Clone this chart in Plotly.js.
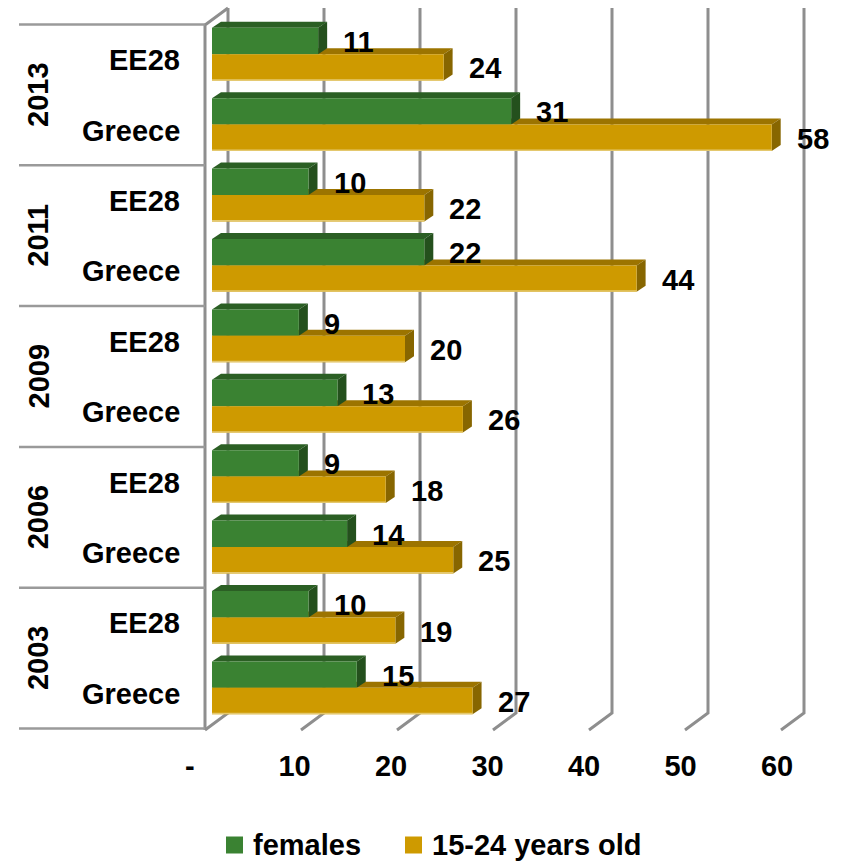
<!DOCTYPE html>
<html>
<head>
<meta charset="utf-8">
<script src="https://cdn.plot.ly/plotly-3.0.1.min.js"></script>
<style>
  html, body { margin: 0; padding: 0; background: #ffffff; }
  #chart { width: 841px; height: 866px; }
</style>
</head>
<body>
<div id="chart"></div>
<script>
// Categories (top to bottom) and series values
const years = ['2013', '2011', '2009', '2006', '2003'];
const regions = ['EE28', 'Greece'];
const females = [11, 31, 10, 22, 9, 13, 9, 14, 10, 15];
const youth = [24, 58, 22, 44, 20, 26, 18, 25, 19, 27];
const tickValues = [0, 10, 20, 30, 40, 50, 60];
const tickLabels = ['-\u00a0\u00a0', '10', '20', '30', '40', '50', '60'];
const seriesNames = ['females', '15-24 years old'];

// Figure geometry
const W = 841, H = 866;
const ML = 212, MR = 37, MT = 19, MB = 143;
const PW = W - ML - MR, PH = H - MT - MB;
const PX_PER_UNIT = 9.65;
const XMAX = PW / PX_PER_UNIT;
const NROWS = females.length;
const ROW_PX = PH / NROWS;
const BARGAP = 0.25;
const BAR_W = (1 - BARGAP) / 2;

// Pseudo-3D depth of the bars (pixels)
const DEPTH_X = 9, DEPTH_Y = 6;
const dxU = DEPTH_X / PX_PER_UNIT;
const dyU = DEPTH_Y / ROW_PX;

// Wall / floor geometry (pixels)
const GRID_PX = 9.6;          // gridline spacing per unit on the back wall
const BACK_X0 = 228;          // back wall position of 0
const WALL_DX = 23, WALL_DY = 17;
const WALL_TOP = 8, WALL_BOTTOM = 713;
const FRONT_SHIFT = 5.5;      // category axis sits slightly lower than the bars

const colors = {
  green: { front: '#3a8232', top: '#2b5f24', side: '#24501d' },
  gold:  { front: '#ce9a00', top: '#9c7400', side: '#876600', edge: '#e4c86e' }
};
const gridColor = '#8e8e8e';
const font = { family: 'Liberation Sans, Arial, sans-serif', size: 29, color: '#000000', weight: 'bold' };

const px = xp => (xp - ML) / PW;          // pixel -> paper x
const py = yp => (H - MB - yp) / PH;      // pixel -> paper y

const rowIdx = females.map((_, i) => i);

const traces = [
  {
    type: 'bar', orientation: 'h', name: seriesNames[0],
    x: females, y: rowIdx,
    marker: { color: colors.green.front },
    hoverinfo: 'skip'
  },
  {
    type: 'bar', orientation: 'h', name: seriesNames[1],
    x: youth, y: rowIdx,
    marker: { color: colors.gold.front },
    hoverinfo: 'skip'
  }
];

const shapes = [];

// Back-wall gridlines with floor diagonals
tickValues.forEach(v => {
  const bx = BACK_X0 + v * GRID_PX;
  shapes.push({
    type: 'path', xref: 'paper', yref: 'paper', layer: 'below',
    path: `M ${px(bx)},${py(WALL_TOP)} L ${px(bx)},${py(WALL_BOTTOM)} L ${px(bx - WALL_DX)},${py(WALL_BOTTOM + WALL_DY)}`,
    line: { color: gridColor, width: 3 }
  });
});

// Left wall: top diagonal and front vertical edge
shapes.push({
  type: 'path', xref: 'paper', yref: 'paper', layer: 'below',
  path: `M ${px(BACK_X0)},${py(WALL_TOP)} L ${px(BACK_X0 - WALL_DX)},${py(WALL_TOP + WALL_DY)} L ${px(BACK_X0 - WALL_DX)},${py(WALL_BOTTOM + WALL_DY)}`,
  line: { color: gridColor, width: 3 }
});

// Year group separators on the category axis
for (let k = 0; k <= years.length; k++) {
  const yp = MT + 2 * k * ROW_PX + FRONT_SHIFT;
  shapes.push({
    type: 'line', xref: 'paper', yref: 'paper', layer: 'below',
    x0: px(19), x1: px(BACK_X0 - WALL_DX), y0: py(yp), y1: py(yp),
    line: { color: '#9a9a9a', width: 2.5 }
  });
}

// Top and side faces of each bar (gold first so green sits over it)
function addFaces(values, top0, c) {
  values.forEach((v, i) => {
    const y0 = i + top0;
    const y1 = y0 + BAR_W;
    shapes.push({
      type: 'path', xref: 'x', yref: 'y', layer: 'below',
      path: `M 0,${y0} L ${dxU},${y0 - dyU} L ${v + dxU},${y0 - dyU} L ${v},${y0} Z`,
      fillcolor: c.top, line: { width: 0 }
    });
    shapes.push({
      type: 'path', xref: 'x', yref: 'y', layer: 'below',
      path: `M ${v},${y0} L ${v + dxU},${y0 - dyU} L ${v + dxU},${y1 - dyU} L ${v},${y1} Z`,
      fillcolor: c.side, line: { width: 0 }
    });
  });
}
addFaces(youth, 0, colors.gold);
addFaces(females, -BAR_W, colors.green);

// Light bottom edge on the gold bars
youth.forEach((v, i) => {
  const yb = i + BAR_W - 0.7 / ROW_PX;
  shapes.push({
    type: 'line', xref: 'x', yref: 'y', layer: 'above',
    x0: 0, x1: v, y0: yb, y1: yb,
    line: { color: colors.gold.edge, width: 1.5 }
  });
});

const annotations = [];

// Value labels
females.forEach((v, i) => annotations.push({
  x: v, y: i - BAR_W / 2, xref: 'x', yref: 'y', text: String(v),
  showarrow: false, xanchor: 'left', yanchor: 'middle', xshift: 23, yshift: -1, font: font
}));
youth.forEach((v, i) => annotations.push({
  x: v, y: i + BAR_W / 2, xref: 'x', yref: 'y', text: String(v),
  showarrow: false, xanchor: 'left', yanchor: 'middle', xshift: 23, yshift: -1, font: font
}));

// Region labels
rowIdx.forEach(i => annotations.push({
  x: px(182), y: py(MT + (i + 0.5) * ROW_PX + 6), xref: 'paper', yref: 'paper',
  text: regions[i % 2], showarrow: false, xanchor: 'right', yanchor: 'middle', font: font
}));

// Year labels (rotated)
years.forEach((yr, k) => annotations.push({
  x: px(38), y: py(MT + (2 * k + 1) * ROW_PX + FRONT_SHIFT), xref: 'paper', yref: 'paper',
  text: yr, textangle: -90, showarrow: false, xanchor: 'center', yanchor: 'middle', font: font
}));

// Legend: colour swatches with series names
const legendItems = [
  { name: seriesNames[0], color: colors.green.front, x: 226 },
  { name: seriesNames[1], color: colors.gold.front, x: 405 }
];
const LEG_Y = 845, SW = 17;
legendItems.forEach(it => {
  shapes.push({
    type: 'rect', xref: 'paper', yref: 'paper',
    x0: px(it.x), x1: px(it.x + SW), y0: py(LEG_Y - SW / 2), y1: py(LEG_Y + SW / 2),
    fillcolor: it.color, line: { width: 0 }
  });
  annotations.push({
    x: px(it.x + SW + 8), y: py(LEG_Y), xref: 'paper', yref: 'paper',
    text: it.name, showarrow: false, xanchor: 'left', yanchor: 'middle', font: font
  });
});

const layout = {
  width: W, height: H,
  margin: { l: ML, r: MR, t: MT, b: MB, pad: 0, autoexpand: false },
  paper_bgcolor: '#ffffff', plot_bgcolor: 'rgba(0,0,0,0)',
  barmode: 'group', bargap: BARGAP, bargroupgap: 0,
  showlegend: false,
  xaxis: {
    range: [0, XMAX], showgrid: false, zeroline: false, showline: false,
    tickmode: 'array', tickvals: tickValues, ticktext: tickLabels,
    ticks: '', tickfont: font, ticklabelshift: -14, ticklabelstandoff: 23
  },
  yaxis: {
    range: [NROWS - 0.5, -0.5], showgrid: false, zeroline: false, showline: false,
    showticklabels: false, ticks: ''
  },
  shapes: shapes,
  annotations: annotations,
  font: font
};

Plotly.newPlot('chart', traces, layout, { displayModeBar: false, staticPlot: true });
</script>
</body>
</html>
